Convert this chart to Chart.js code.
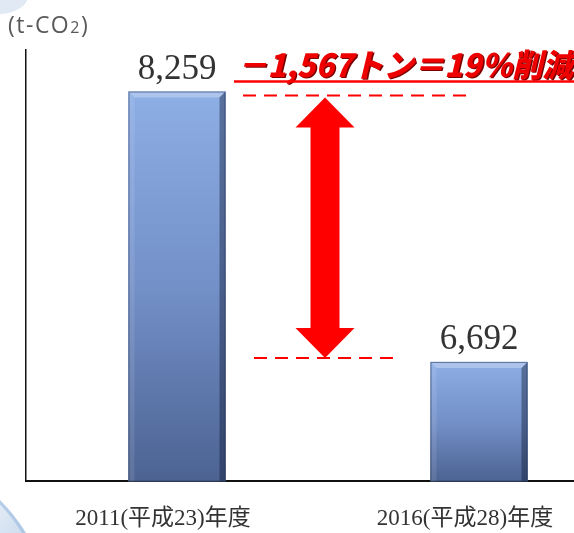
<!DOCTYPE html>
<html><head><meta charset="utf-8">
<script src="https://cdn.jsdelivr.net/npm/chart.js@4.4.1/dist/chart.umd.min.js"></script>
<style>
html,body{margin:0;padding:0;overflow:hidden;background:#fff;width:574px;height:533px}
#wrap{position:absolute;left:0;top:0;width:640px;height:533px}
</style></head>
<body><div id="wrap"><canvas id="c" width="640" height="533"></canvas></div>
<script>
const categories = ['2011(平成23)年度', '2016(平成28)年度'];
const emissions = [8259, 6692];
const valueLabels = ['8,259', '6,692'];
const yRange = [6000, 8500];
const unitParts = ['(t-CO', '2', ')'];
const headline = '－1,567トン＝19％削減';

const serif = '"Liberation Serif", "Noto Sans CJK JP", serif';

const decoPlugin = {
  id: 'deco',
  beforeDraw(chart) {
    const ctx = chart.ctx;
    ctx.save();
    ctx.fillStyle = '#fff';
    ctx.fillRect(0, 0, chart.width, chart.height);
    // top-left decoration
    ctx.fillStyle = '#e1eaf4';
    ctx.beginPath();
    ctx.ellipse(-2, -4, 30, 18, 0, 0, Math.PI * 2);
    ctx.fill();
    // bottom-left decoration
    const g = ctx.createLinearGradient(0, 495, 45, 533);
    g.addColorStop(0, '#e6eef7');
    g.addColorStop(1, '#c3d5ea');
    ctx.fillStyle = g;
    ctx.beginPath();
    ctx.arc(-120, 620, 170, 0, Math.PI * 2);
    ctx.fill();
    ctx.strokeStyle = 'rgba(150,185,225,0.6)';
    ctx.lineWidth = 3;
    ctx.beginPath();
    ctx.arc(-120, 620, 168, -Math.PI / 2, 0);
    ctx.stroke();
    ctx.restore();
  },
  afterDatasetsDraw(chart) {
    const ctx = chart.ctx;
    const meta = chart.getDatasetMeta(0);
    const ys = chart.scales.y;
    const area = chart.chartArea;
    ctx.save();
    // bevels
    meta.data.forEach(el => {
      const L = el.x - el.width / 2, R = el.x + el.width / 2, T = el.y, B = Math.min(el.base, area.bottom), b = 6;
      ctx.fillStyle = 'rgba(255,255,255,0.28)';
      ctx.beginPath(); ctx.moveTo(L, T); ctx.lineTo(R, T); ctx.lineTo(R - b, T + b); ctx.lineTo(L + b, T + b); ctx.closePath(); ctx.fill();
      ctx.fillStyle = 'rgba(255,255,255,0.10)';
      ctx.beginPath(); ctx.moveTo(L, T); ctx.lineTo(L + b, T + b); ctx.lineTo(L + b, B); ctx.lineTo(L, B); ctx.closePath(); ctx.fill();
      ctx.fillStyle = 'rgba(10,20,45,0.40)';
      ctx.beginPath(); ctx.moveTo(R, T); ctx.lineTo(R, B); ctx.lineTo(R - b, B); ctx.lineTo(R - b, T + b); ctx.closePath(); ctx.fill();
      ctx.strokeStyle = 'rgba(40,55,90,0.55)';
      ctx.lineWidth = 1;
      ctx.strokeRect(L + 0.5, T + 0.5, el.width - 1, B - T - 1);
    });
    // value labels
    ctx.fillStyle = '#333';
    ctx.font = '35px ' + serif;
    ctx.textAlign = 'center';
    ctx.textBaseline = 'alphabetic';
    meta.data.forEach((el, i) => {
      ctx.fillText(valueLabels[i], el.x, el.y - 13);
    });
    // unit label
    ctx.fillStyle = '#595959';
    ctx.textAlign = 'left';
    ctx.textBaseline = 'alphabetic';
    ctx.letterSpacing = '1.5px';
    ctx.font = '23px "Open Sans", sans-serif';
    let x = 8;
    ctx.fillText(unitParts[0], x, 33); x += ctx.measureText(unitParts[0]).width;
    ctx.font = '16px "Open Sans", sans-serif';
    ctx.fillText(unitParts[1], x, 33); x += ctx.measureText(unitParts[1]).width;
    ctx.font = '23px "Open Sans", sans-serif';
    ctx.fillText(unitParts[2], x, 33);
    ctx.letterSpacing = '0px';

    // annotation
    const y1 = ys.getPixelForValue(emissions[0]);
    const y2 = ys.getPixelForValue(emissions[1]);
    const b0 = meta.data[0], b1 = meta.data[1];
    const ax = (b0.x + b1.x) / 2 - 3;
    ctx.strokeStyle = '#ff0000';
    ctx.lineWidth = 2;
    ctx.setLineDash([13, 8]);
    ctx.beginPath(); ctx.moveTo(ax - 82, y1 + 4); ctx.lineTo(ax + 148, y1 + 4); ctx.stroke();
    ctx.beginPath(); ctx.moveTo(ax - 71, y2 - 4); ctx.lineTo(ax + 73, y2 - 4); ctx.stroke();
    ctx.setLineDash([]);
    // double arrow
    const tTop = y1 + 6, tBot = y2 - 4, hh = 30, hw = 29.5, sw = 14.5;
    ctx.fillStyle = '#ff0000';
    ctx.beginPath();
    ctx.moveTo(ax, tTop);
    ctx.lineTo(ax + hw, tTop + hh);
    ctx.lineTo(ax + sw, tTop + hh);
    ctx.lineTo(ax + sw, tBot - hh);
    ctx.lineTo(ax + hw, tBot - hh);
    ctx.lineTo(ax, tBot);
    ctx.lineTo(ax - hw, tBot - hh);
    ctx.lineTo(ax - sw, tBot - hh);
    ctx.lineTo(ax - sw, tTop + hh);
    ctx.lineTo(ax - hw, tTop + hh);
    ctx.closePath();
    ctx.fill();
    // headline (fit into 237..573)
    ctx.font = 'italic 900 32px "Noto Sans CJK JP", sans-serif';
    ctx.textAlign = 'left';
    const w = ctx.measureText(headline).width;
    const sx = Math.min(1, 336 / w);
    ctx.save();
    ctx.translate(237, y1 - 15);
    ctx.scale(sx, 1);
    ctx.fillStyle = '#7a0000';
    ctx.fillText(headline, 1.5, 1.5);
    ctx.fillStyle = '#ee0000';
    ctx.fillText(headline, 0, 0);
    ctx.restore();
    ctx.strokeStyle = '#ff0000';
    ctx.lineWidth = 2.5;
    ctx.beginPath(); ctx.moveTo(234, y1 - 10); ctx.lineTo(chart.width, y1 - 10); ctx.stroke();
    ctx.restore();
  }
};

new Chart(document.getElementById('c'), {
  type: 'bar',
  data: {
    labels: categories,
    datasets: [{
      data: emissions,
      barThickness: 97,
      borderWidth: 0,
      backgroundColor: (c) => {
        const chart = c.chart;
        if (!chart.chartArea || c.raw === undefined) return '#6f8cc6';
        const ys = chart.scales.y;
        const top = ys.getPixelForValue(c.raw);
        const g = chart.ctx.createLinearGradient(0, top, 0, chart.chartArea.bottom);
        g.addColorStop(0, '#8eaee6');
        g.addColorStop(0.5, '#7390c8');
        g.addColorStop(1, '#4c6392');
        return g;
      }
    }]
  },
  options: {
    responsive: false,
    animation: false,
    layout: { padding: { left: 26, top: 50, right: 10, bottom: -24 } },
    plugins: { legend: { display: false }, tooltip: { enabled: false } },
    scales: {
      x: {
        grid: { display: false, drawTicks: false },
        border: { display: true, color: '#111', width: 2 },
        ticks: { color: '#333', padding: 24, labelOffset: -14, font: { size: 23, family: serif } }
      },
      y: {
        min: yRange[0], max: yRange[1],
        grid: { display: false, drawTicks: false },
        border: { display: true, color: '#111', width: 1.5 },
        ticks: { display: false }
      }
    }
  },
  plugins: [decoPlugin]
});
</script>
</body></html>
